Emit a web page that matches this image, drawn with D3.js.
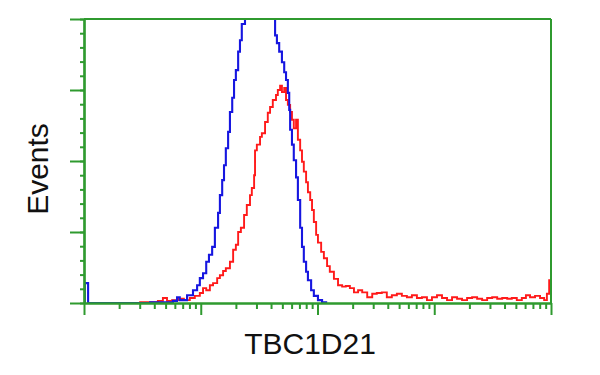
<!DOCTYPE html>
<html lang="en">
<head>
<meta charset="UTF-8">
<title>TBC1D21 flow histogram</title>
<style>
    body { margin: 0; background: #fff; }
    svg { display: block; }
    .lbl { font-family: "Liberation Sans", Arial, sans-serif; font-size: 30px; fill: #111; }
</style>
</head>
<body>
<svg id="chart" width="600" height="375"></svg>
<script src="https://d3js.org/d3.v7.min.js"></script>
<script>
// channel (0-1024 over 4 log decades) and event counts
const blueChannel = [0, 2, 9, 145, 178, 195, 204, 210, 226, 239, 248, 254, 261, 268, 274, 281, 287, 294, 298, 303, 307, 311, 316, 320, 325, 329, 333, 338, 342, 346, 353, 364, 382, 397, 408, 414, 419, 423, 428, 434, 439, 443, 447, 450, 452, 456, 460, 465, 469, 474, 478, 482, 487, 491, 498, 504, 513, 522, 531];
const blueCount   = [0, 28, 0, 1, 1, 3, 8, 4, 11, 18, 25, 35, 42, 58, 68, 79, 106, 127, 152, 173, 194, 218, 241, 269, 289, 314, 328, 354, 370, 393, 410, 425, 440, 430, 410, 400, 377, 366, 354, 339, 325, 314, 296, 272, 244, 223, 201, 177, 145, 106, 79, 58, 44, 32, 18, 10, 4, 1, 0];

const redChannel = [118, 123, 145, 162, 173, 182, 193, 206, 219, 232, 243, 254, 261, 268, 276, 283, 292, 298, 305, 311, 320, 327, 333, 338, 344, 351, 357, 364, 368, 373, 375, 379, 386, 390, 397, 403, 408, 414, 421, 425, 430, 434, 439, 443, 447, 452, 456, 460, 465, 469, 474, 478, 482, 487, 491, 496, 500, 504, 509, 513, 520, 526, 533, 539, 548, 557, 566, 574, 583, 592, 601, 610, 621, 632, 642, 653, 664, 675, 686, 697, 708, 719, 730, 741, 752, 763, 774, 785, 796, 807, 818, 829, 840, 851, 862, 873, 884, 895, 906, 917, 928, 938, 949, 960, 969, 978, 989, 1000, 1009, 1015, 1020, 1024];
const redCount   = [0, 1, 1, 3, 7, 3, 4, 6, 4, 7, 10, 14, 21, 18, 25, 28, 35, 39, 45, 49, 58, 75, 82, 100, 106, 124, 138, 152, 162, 180, 215, 223, 234, 239, 255, 268, 276, 286, 293, 300, 306, 297, 303, 286, 279, 269, 258, 246, 258, 230, 215, 199, 185, 170, 156, 145, 131, 114, 96, 85, 72, 63, 52, 44, 34, 25, 23, 24, 21, 15, 18, 15, 8, 13, 14, 15, 8, 11, 13, 10, 8, 11, 7, 8, 4, 8, 11, 7, 4, 8, 6, 4, 7, 8, 6, 4, 7, 8, 6, 7, 6, 7, 4, 7, 11, 8, 10, 7, 4, 13, 32, 32];

const yMajor = [0, 100, 200, 300, 400];
const xLabel = 'TBC1D21';
const yLabel = 'Events';

const box = { left: 84, right: 551, top: 19, bottom: 303 };
const green = '#2f9a2f';

const svg = d3.select('#chart');

const xChan = d3.scaleLinear().domain([0, 1024]).range([box.left, box.right]);
const xLog = d3.scaleLog().domain([1, 10000]).range([box.left, box.right]);
const y = d3.scaleLinear().domain([0, 400]).range([box.bottom, box.top]);

svg.append('clipPath').attr('id', 'plot-clip')
    .append('rect')
    .attr('x', box.left).attr('y', box.top)
    .attr('width', box.right - box.left).attr('height', box.bottom - box.top);

const line = d3.line()
    .x(d => xChan(d[0]))
    .y(d => y(d[1]))
    .curve(d3.curveStepAfter);

const plot = svg.append('g').attr('clip-path', 'url(#plot-clip)');

plot.append('path')
    .datum(d3.zip(redChannel, redCount))
    .attr('d', line)
    .attr('fill', 'none')
    .attr('stroke', '#ff1a1a')
    .attr('stroke-width', 1.9);

plot.append('path')
    .datum(d3.zip(blueChannel, blueCount))
    .attr('d', line)
    .attr('fill', 'none')
    .attr('stroke', '#1616e0')
    .attr('stroke-width', 2.1);

// frame: top and right sides
svg.append('line')
    .attr('x1', box.left).attr('x2', box.right)
    .attr('y1', box.top).attr('y2', box.top)
    .attr('stroke', green).attr('stroke-width', 2);
svg.append('line')
    .attr('x1', box.right).attr('x2', box.right)
    .attr('y1', box.top).attr('y2', box.bottom)
    .attr('stroke', green).attr('stroke-width', 2);

function styleAxis(g) {
    g.selectAll('text').remove();
    g.selectAll('path, line').attr('stroke', green).attr('stroke-width', 2);
    g.select('.domain').attr('stroke-width', 2.2);
}

// y axis: minor every 20, major every 100
svg.append('g')
    .attr('transform', `translate(${box.left},0)`)
    .call(d3.axisLeft(y).tickValues(d3.range(0, 401, 20)).tickSize(4).tickSizeOuter(0))
    .call(styleAxis);
svg.append('g')
    .attr('transform', `translate(${box.left},0)`)
    .call(d3.axisLeft(y).tickValues(yMajor).tickSize(14).tickSizeOuter(0))
    .call(styleAxis);

// x axis: log decades, minor ticks at 2..9
const xTicks = xLog.ticks();
const isDecade = v => Math.abs(Math.log10(v) - Math.round(Math.log10(v))) < 1e-9;
svg.append('g')
    .attr('transform', `translate(0,${box.bottom})`)
    .call(d3.axisBottom(xLog).tickValues(xTicks.filter(v => !isDecade(v))).tickSize(6).tickSizeOuter(0))
    .call(styleAxis);
svg.append('g')
    .attr('transform', `translate(0,${box.bottom})`)
    .call(d3.axisBottom(xLog).tickValues(xTicks.filter(isDecade)).tickSize(12).tickSizeOuter(0))
    .call(styleAxis);

svg.append('text')
    .attr('class', 'lbl')
    .attr('x', 310).attr('y', 354)
    .attr('text-anchor', 'middle')
    .text(xLabel);

svg.append('text')
    .attr('class', 'lbl')
    .attr('transform', 'translate(48,169) rotate(-90)')
    .attr('text-anchor', 'middle')
    .text(yLabel);
</script>
</body>
</html>
